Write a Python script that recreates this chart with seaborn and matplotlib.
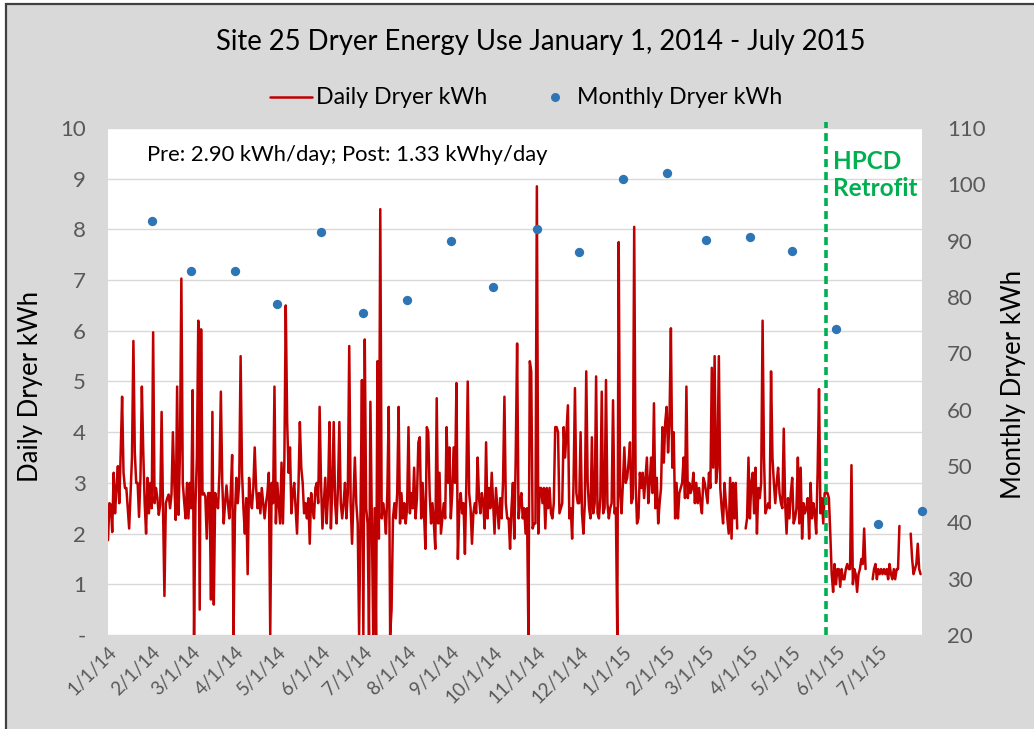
import numpy as np
import pandas as pd
import matplotlib
matplotlib.use("Agg")
import matplotlib.pyplot as plt
from matplotlib.patches import Rectangle
from matplotlib.lines import Line2D
import seaborn as sns

# ---------------- data ----------------
nan = np.nan
# Daily dryer energy (kWh), one list per calendar month
jan_14 = [1.87, 2.6, 2.57, 2.03, 3.2, 2.4, 2.9, 3.33, 2.6, 3.6, 4.7, 3.2, 2.9, 2.9, 2.5, 2.1,
          2.8, 3.5, 5.8, 3.6, 3.0, 3.0, 2.33, 3.1, 4.9, 3.6, 2.6, 2.0, 3.1, 2.4, 3.0]
feb_14 = [2.5, 5.97, 2.6, 2.9, 2.7, 2.37, 2.57, 4.4, 2.5, 0.77, 2.6, 2.7, 2.77, 2.5, 2.77, 4.0,
          3.0, 2.27, 4.9, 2.37, 3.6, 7.03, 3.0, 2.63, 2.3, 3.0, 2.3, 3.0]
mar_14 = [2.5, 4.83, 0.0, 2.57, 3.5, 6.2, 0.5, 6.03, 2.77, 2.8, 2.73, 1.9, 2.8, 2.8, 0.7, 4.4,
          0.6, 2.8, 2.6, 2.5, 3.2, 4.8, 3.0, 2.2, 2.6, 2.95, 2.6, 2.3, 2.8, 3.55, 0.0]
apr_14 = [2.4, 3.1, 2.6, 3.0, 5.5, 3.2, 2.5, 2.0, 2.7, 1.2, 3.1, 2.7, 2.5, 2.9, 3.7, 2.9,
          2.5, 2.8, 2.4, 2.9, 2.6, 2.3, 2.6, 2.8, 3.2, 0.0, 3.0, 2.6, 4.9, 2.2]
may_14 = [3.0, 2.6, 2.2, 3.4, 2.2, 3.4, 6.5, 4.2, 3.2, 3.7, 2.4, 2.8, 3.0, 2.5, 2.0, 2.9,
          4.2, 3.3, 3.0, 2.4, 2.6, 2.3, 2.7, 1.8, 2.8, 2.5, 2.3, 2.9, 3.0, 2.6, 4.5]
jun_14 = [3.0, 2.1, 2.6, 3.1, 2.2, 2.8, 4.2, 2.1, 2.9, 4.2, 2.6, 2.2, 2.9, 4.2, 2.6, 2.3,
          2.6, 3.0, 2.3, 2.8, 5.7, 2.6, 1.8, 2.7, 3.5, 2.6, 2.2, 0.0, 2.4, 5.03]
jul_14 = [0.0, 5.83, 2.5, 2.2, 0.0, 4.6, 2.3, 0.0, 2.5, 0.0, 5.4, 1.9, 8.4, 2.3, 2.6, 2.4,
          2.0, 2.8, 4.5, 0.0, 0.5, 2.3, 2.6, 2.3, 2.8, 4.5, 2.2, 2.8, 2.3, 2.6, 2.2]
aug_14 = [2.5, 4.1, 2.4, 2.8, 2.5, 3.3, 2.3, 2.7, 3.8, 3.9, 2.3, 3.0, 2.4, 1.7, 4.1, 4.0,
          2.8, 2.2, 2.6, 2.2, 1.7, 4.67, 2.2, 3.2, 2.0, 2.3, 2.6, 2.3, 4.1, 3.0, 3.7]
sep_14 = [2.3, 2.8, 3.7, 3.0, 4.97, 1.5, 2.5, 2.8, 2.4, 2.6, 1.6, 3.0, 5.0, 2.8, 2.5, 1.8,
          2.4, 2.6, 2.4, 3.5, 2.7, 2.4, 2.8, 2.6, 2.1, 3.8, 2.3, 2.9, 2.5, 3.2]
oct_14 = [2.6, 2.0, 2.9, 2.5, 2.1, 2.7, 2.3, 3.0, 4.7, 2.6, 2.3, 2.3, 1.7, 2.5, 3.0, 1.9,
          3.5, 5.75, 2.3, 2.6, 2.8, 2.3, 2.5, 2.0, 2.5, 0.0, 5.4, 5.2, 2.1, 2.2, 2.2]
nov_14 = [8.85, 2.0, 2.9, 2.9, 2.6, 2.9, 2.1, 2.9, 2.5, 2.9, 2.4, 2.3, 2.6, 4.1, 4.1, 4.0,
          2.4, 2.5, 2.6, 4.1, 3.5, 4.0, 4.53, 2.3, 2.5, 1.9, 3.0, 4.87, 2.8, 2.6]
dec_14 = [2.6, 4.0, 2.4, 2.0, 2.6, 5.2, 3.0, 2.5, 2.3, 3.9, 2.4, 2.6, 5.1, 2.4, 2.3, 2.7,
          4.8, 2.4, 2.5, 5.03, 2.6, 2.3, 2.5, 2.6, 4.63, 2.4, 2.5, 0.0, 7.75, 2.8, 2.4]
jan_15 = [3.0, 3.7, 3.0, 3.1, 3.4, 3.8, 2.6, 2.7, 8.05, 3.0, 2.2, 2.3, 3.2, 2.9, 3.2, 2.7,
          3.1, 3.5, 2.6, 3.0, 3.5, 2.8, 4.57, 2.5, 3.1, 2.2, 2.6, 2.9, 4.1, 3.4, 4.2]
feb_15 = [4.5, 3.6, 4.2, 6.05, 3.3, 4.0, 2.3, 3.0, 2.3, 2.8, 2.9, 3.0, 3.5, 2.7, 4.9, 2.7,
          3.0, 2.8, 2.9, 3.2, 2.6, 3.0, 2.6, 2.9, 2.6, 2.4, 3.1, 3.0]
mar_15 = [2.8, 2.6, 3.2, 2.9, 5.27, 3.3, 5.5, 3.0, 3.3, 5.5, 2.9, 2.5, 2.2, 3.0, 2.6, 2.3,
          2.0, 3.1, 1.9, 3.0, 2.3, 3.0, 2.1, nan, nan, nan, nan, nan, 2.1, 2.3, 3.5]
apr_15 = [2.3, 3.0, 3.2, 2.4, 3.3, 2.0, 2.9, 2.7, 3.0, 6.2, 3.5, 2.4, 2.5, 2.6, 2.5, 5.2,
          3.5, 3.0, 2.6, 3.0, 3.3, 2.8, 2.6, 2.5, 4.07, 2.6, 2.0, 2.7, 2.3, 2.8]
may_15 = [3.1, 2.2, 2.3, 2.5, 3.5, 2.2, 3.3, 1.9, 2.6, 2.4, 2.5, 2.7, 1.9, 3.0, 2.3, 2.6,
          2.4, 2.0, 3.2, 4.85, 2.4, 2.7, 2.2, 2.8, 2.8, 2.8, 2.7, 2.0, 1.2, 0.85, 1.4]
jun_15 = [1.0, 1.3, 1.3, 0.95, 1.3, 1.1, 1.1, 1.3, 1.4, 1.3, 1.3, 3.35, 1.0, 1.3, 1.2, 0.85,
          1.2, 1.3, 1.5, 1.4, 2.1, 1.3, nan, nan, nan, nan, 1.1, 1.3, 1.4, 1.1]
jul_15 = [1.3, 1.2, 1.3, 1.2, 1.3, 1.2, 1.3, 1.1, 1.4, 1.2, 1.1, 1.3, 1.1, 1.3, 1.3, 2.15,
          nan, nan, nan, nan, nan, nan, nan, 2.0, 1.5, 1.2, 1.3, 1.4, 1.8, 1.3, 1.2]

# Monthly totals (kWh), Jan 2014 .. Jul 2015, plotted at the close of each month
monthly_kwh = [93.5, 84.7, 84.7, 78.8, 91.6, 77.2, 79.5, 90.0, 81.7, 92.1, 87.9,
               101.0, 102.0, 90.2, 90.7, 88.2, 74.4, 39.7, 42.0]

start_date = "2014-01-01"
retrofit_date = "2015-05-25"
tick_labels = ["1/1/14", "2/1/14", "3/1/14", "4/1/14", "5/1/14", "6/1/14", "7/1/14",
               "8/1/14", "9/1/14", "10/1/14", "11/1/14", "12/1/14", "1/1/15", "2/1/15",
               "3/1/15", "4/1/15", "5/1/15", "6/1/15", "7/1/15"]
legend_labels = ["Daily Dryer kWh", "Monthly Dryer kWh"]

# ---------------- frames ----------------
daily_vals = np.array(jan_14 + feb_14 + mar_14 + apr_14 + may_14 + jun_14 + jul_14 +
                      aug_14 + sep_14 + oct_14 + nov_14 + dec_14 + jan_15 + feb_15 +
                      mar_15 + apr_15 + may_15 + jun_15 + jul_15, dtype=float)
t0 = pd.Timestamp(start_date)
dates = pd.date_range(start_date, periods=len(daily_vals), freq="D")
daily = pd.DataFrame({"day": (dates - t0).days, "kwh": daily_vals})
daily["seg"] = daily["kwh"].isna().cumsum()   # break the line at missing days
daily = daily.dropna()

month_ends = pd.date_range("2014-02-01", periods=len(monthly_kwh), freq="MS")
monthly = pd.DataFrame({"day": (month_ends - t0).days, "kwh": monthly_kwh})

tick_days = (pd.date_range(start_date, periods=len(tick_labels), freq="MS") - t0).days
x_max = (pd.Timestamp("2015-08-01") - t0).days
retro_day = (pd.Timestamp(retrofit_date) - t0).days

# ---------------- style ----------------
sns.set_theme(style="white")
plt.rcParams["font.family"] = ["Lato", "DejaVu Sans"]

RED = "#c00000"
BLUE = "#2e75b6"
GREEN = "#00b050"
TICK = "#595959"

W, H = 1034, 729
fig = plt.figure(figsize=(W / 100, H / 100), dpi=100)
fig.patch.set_facecolor("white")
fig.add_artist(Rectangle((6 / W, -0.02), 1.1, 1 - 3.5 / H + 0.02,
                         transform=fig.transFigure, facecolor="#d9d9d9",
                         edgecolor="#404040", linewidth=1.6, zorder=-10))

L, R, T, B = 108, 922, 128, 635
ax = fig.add_axes([L / W, 1 - B / H, (R - L) / W, (B - T) / H])
ax.set_facecolor("white")

sns.lineplot(data=daily, x="day", y="kwh", units="seg", estimator=None,
             color=RED, linewidth=1.8, ax=ax, legend=False)

ax.set_xlim(0, x_max)
ax.set_ylim(0, 10)
ax.set_yticks(range(0, 11))
ax.set_yticklabels(["-"] + [str(i) for i in range(1, 11)])
ax.yaxis.grid(True, color="#d9d9d9", linewidth=1.0)
ax.set_axisbelow(True)
ax.set_xticks(tick_days)
ax.set_xticklabels(tick_labels, rotation=45, ha="right", va="top",
                   rotation_mode="anchor")
ax.tick_params(axis="both", length=0, colors=TICK)
ax.tick_params(axis="y", labelsize=16, pad=16)
ax.tick_params(axis="x", labelsize=13.5, pad=6)
ax.set_xlabel("")
ax.set_ylabel("")
for s in ax.spines.values():
    s.set_visible(False)

ax.axvline(retro_day, color=GREEN, linestyle=(0, (2.2, 1.4)), linewidth=2.6,
           ymin=0, ymax=1.012, clip_on=False, zorder=3)

ax2 = ax.twinx()
sns.scatterplot(data=monthly, x="day", y="kwh", color=BLUE, s=45, linewidth=0,
                ax=ax2, legend=False, clip_on=False, zorder=4)
ax2.set_ylim(20, 110)
ax2.set_yticks(range(20, 111, 10))
ax2.tick_params(axis="y", length=0, colors=TICK, labelsize=16, pad=18)
ax2.set_ylabel("")
ax2.set_xlim(0, x_max)
for s in ax2.spines.values():
    s.set_visible(False)

ax.text((147 - L) / (R - L), (B - 155) / (B - T),
        "Pre: 2.90 kWh/day; Post: 1.33 kWhy/day",
        transform=ax.transAxes, ha="left", va="center", fontsize=15.8, color="black")
ax.text((833 - L) / (R - L), (B - 175) / (B - T), "HPCD\nRetrofit",
        transform=ax.transAxes, ha="left", va="center", fontsize=17.5,
        fontweight="bold", color=GREEN, linespacing=1.2, clip_on=False)

fig.text(541 / W, 1 - 42 / H, "Site 25 Dryer Energy Use January 1, 2014 - July 2015",
         ha="center", va="center", fontsize=19.8, color="black")
fig.text(31 / W, 1 - 386 / H, "Daily Dryer kWh", rotation=90,
         ha="center", va="center", fontsize=18.5, color="black")
fig.text(1013 / W, 1 - 384 / H, "Monthly Dryer kWh", rotation=90,
         ha="center", va="center", fontsize=18.5, color="black")

# legend row: line swatch + dot swatch with their labels
leg_y = 1 - 97 / H
fig.add_artist(Line2D([270 / W, 312 / W], [leg_y, leg_y], color=RED, linewidth=1.8))
fig.text(316 / W, leg_y, legend_labels[0], ha="left", va="center",
         fontsize=16.7, color="black")
fig.add_artist(Line2D([555 / W], [leg_y], color=BLUE, marker="o",
                      linestyle="none", markersize=6.5, markeredgewidth=0))
fig.text(577 / W, leg_y, legend_labels[1], ha="left", va="center",
         fontsize=16.7, color="black")

fig.savefig("out.png", dpi=100, facecolor=fig.get_facecolor())
